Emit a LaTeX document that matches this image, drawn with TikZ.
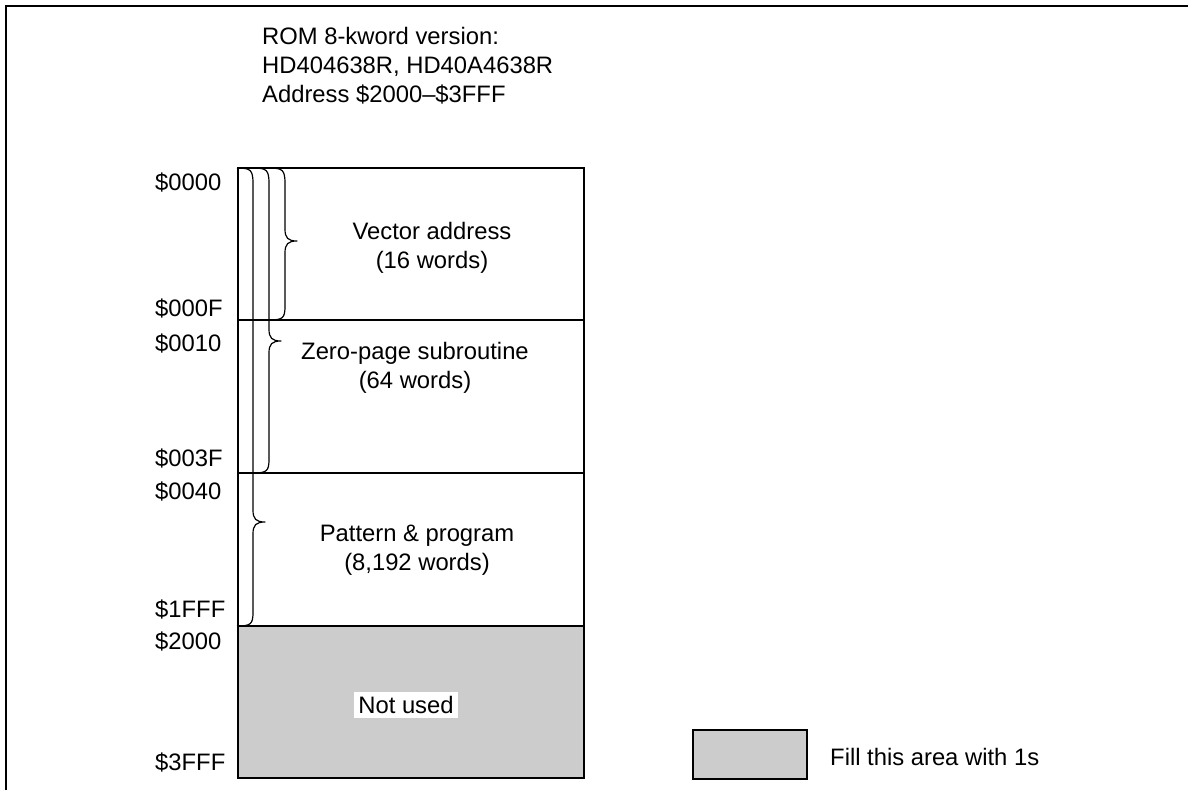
\documentclass[tikz,border=0pt]{standalone}
\usepackage{fontspec}
\setmainfont{Liberation Sans}
\begin{document}
\begin{tikzpicture}[x=1pt,y=-1pt,
  txt/.style={font=\fontsize{23.8}{29}\selectfont, inner sep=0pt},
  addr/.style={txt, anchor=west},
  regionline/.style={draw=black, line width=1.5pt},
  braceline/.style={draw=black, line width=1.2pt, line join=round},
  frameline/.style={draw=black, line width=2.2pt},
  unused/.style={fill=black!20}
]
\useasboundingbox (0,0) rectangle (1188,790);
% frame
\draw[frameline] (6,790) -- (6,6) -- (1188,6);
% title
\node[txt, anchor=base west] (t1) at (262,44) {ROM 8-kword version:};
\node[txt, anchor=base west] (t2) at (262,73) {HD404638R, HD40A4638R};
\node[txt, anchor=base west] (t3) at (262,102) {Address \$2000--\$3FFF};
% memory map
\fill[unused] (238,626) rectangle (584,778);
\draw[regionline] (238,168) rectangle (584,778);
\draw[regionline] (238,320) -- (584,320);
\draw[regionline] (238,473) -- (584,473);
\draw[regionline] (238,626) -- (584,626);
% braces
\foreach \xv/\bot/\tip in {285/320/241, 269/473/341, 253/626/522}{
  \draw[braceline] ({\xv-16},168) .. controls ({\xv-2},168) and (\xv,170) .. (\xv,184)
    -- (\xv,{\tip-12}) .. controls (\xv,{\tip-3}) and ({\xv+3},\tip) .. ({\xv+12},\tip)
    .. controls ({\xv+3},\tip) and (\xv,{\tip+3}) .. (\xv,{\tip+12})
    -- (\xv,{\bot-14}) .. controls (\xv,{\bot-2}) and ({\xv-2},\bot) .. ({\xv-16},\bot);
}
% region texts
\node[txt, align=center] (vec) at (432,248) {Vector address\\(16 words)};
\node[txt, align=center] (zp) at (415,368) {Zero-page subroutine\\(64 words)};
\node[txt, align=center] (pat) at (417,550) {Pattern \& program\\(8,192 words)};
\node[txt, fill=white, inner xsep=4pt, inner ysep=4pt] (nu) at (406,705) {Not used};
% addresses
\node[addr] (a0000) at (155,183) {\$0000};
\node[addr] (a000F) at (155,309) {\$000F};
\node[addr] (a0010) at (155,344) {\$0010};
\node[addr] (a003F) at (155,459) {\$003F};
\node[addr] (a0040) at (155,492) {\$0040};
\node[addr] (a1FFF) at (155,610) {\$1FFF};
\node[addr] (a2000) at (155,642) {\$2000};
\node[addr] (a3FFF) at (155,763) {\$3FFF};
% legend
\draw[unused, draw=black, line width=1.5pt] (693,730) rectangle (807,779);
\node[txt, anchor=west] (leg) at (830,757) {Fill this area with 1s};
\end{tikzpicture}
\end{document}
